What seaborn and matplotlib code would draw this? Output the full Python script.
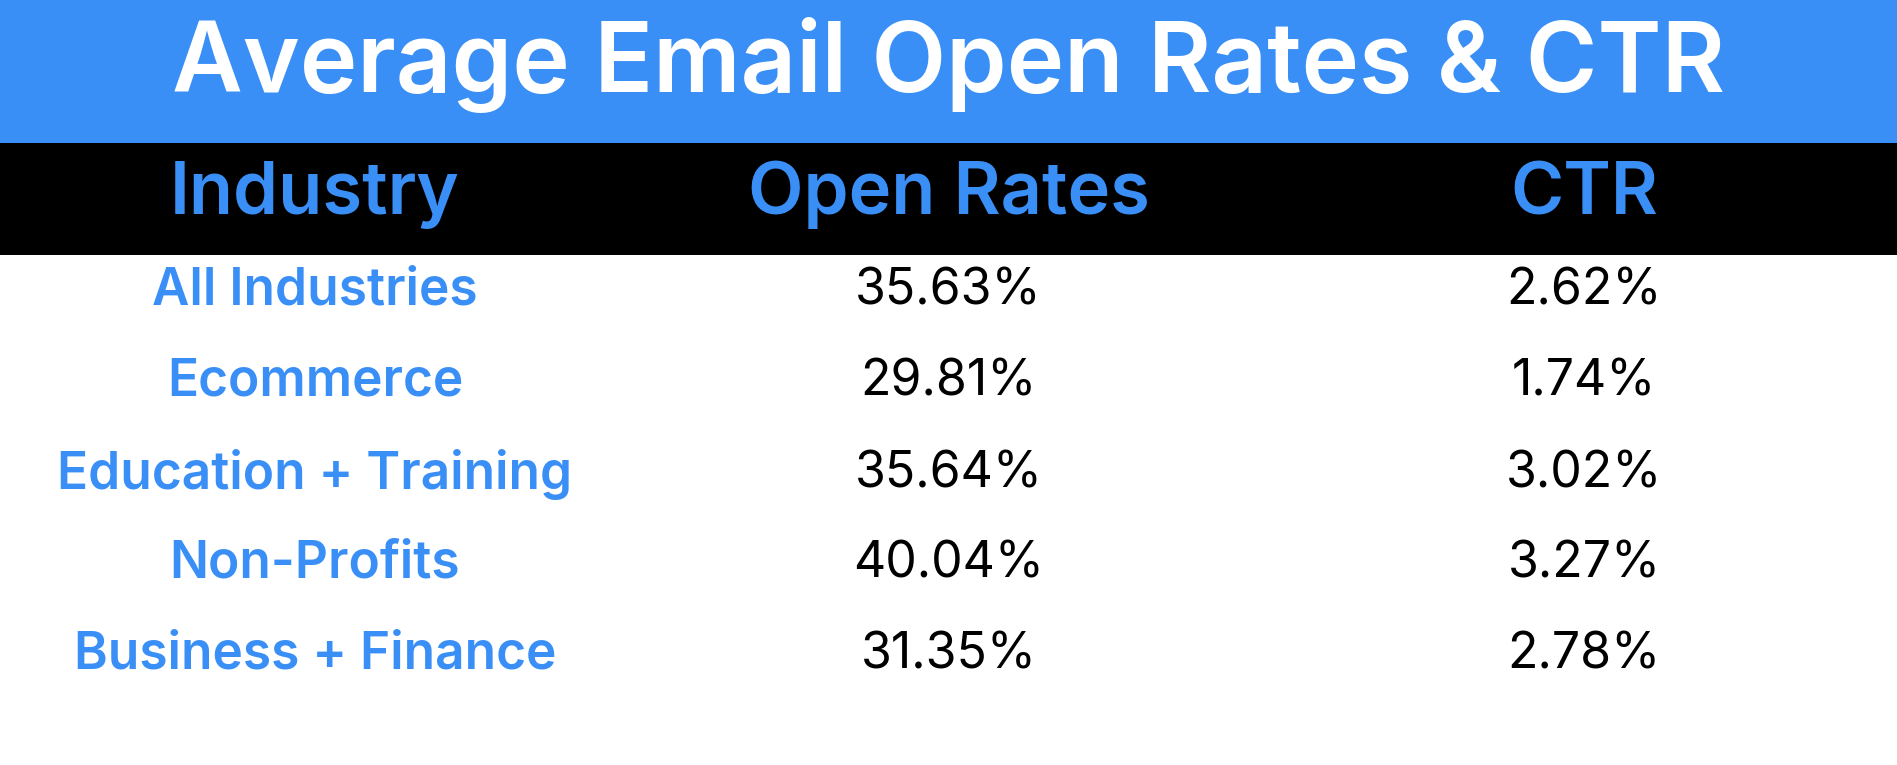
import matplotlib
matplotlib.use("Agg")
import matplotlib.pyplot as plt
import seaborn as sns

title = "Average Email Open Rates & CTR"
headers = ["Industry", "Open Rates", "CTR"]
industries = ["All Industries", "Ecommerce", "Education + Training", "Non-Profits", "Business + Finance"]
open_rates = ["35.63%", "29.81%", "35.64%", "40.04%", "31.35%"]
ctr = ["2.62%", "1.74%", "3.02%", "3.27%", "2.78%"]

sns.set_theme(style="white")
plt.rcParams['font.family'] = ['Inter', 'DejaVu Sans']

BLUE = "#3A8FF7"
fig = plt.figure(figsize=(18.97, 7.65), dpi=100)
ax = fig.add_axes([0, 0, 1, 1])
ax.set_xlim(0, 1); ax.set_ylim(1, 0); ax.axis("off")

ax.add_patch(plt.Rectangle((0, 0), 1, 0.187, color=BLUE, lw=0))
ax.add_patch(plt.Rectangle((0, 0.187), 1, 0.146, color="black", lw=0))
ax.text(0.5, 0.085, title, color="white", fontsize=70, fontweight="semibold", ha="center", va="center")

cols = [0.166, 0.50, 0.835]
for x, h in zip(cols, headers):
    ax.text(x, 0.255, h, color=BLUE, fontsize=52, fontweight="semibold", ha="center", va="center")

rows_y = [0.38, 0.50, 0.62, 0.737, 0.856]
for y, ind, o, c in zip(rows_y, industries, open_rates, ctr):
    ax.text(cols[0], y, ind, color=BLUE, fontsize=37, fontweight="semibold", ha="center", va="center")
    ax.text(cols[1], y, o, color="black", fontsize=36, ha="center", va="center")
    ax.text(cols[2], y, c, color="black", fontsize=36, ha="center", va="center")

fig.savefig("out.png", dpi=100, facecolor="white")
